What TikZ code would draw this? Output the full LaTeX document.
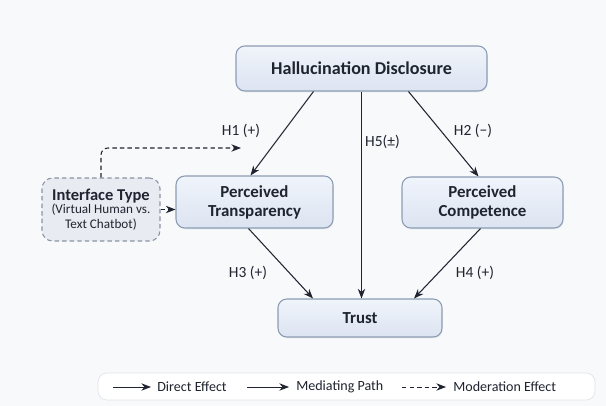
\documentclass[tikz,border=0pt]{standalone}
\usepackage{fontspec}
\setmainfont{Carlito}
\usepackage{xcolor}
\usetikzlibrary{positioning,arrows.meta,calc,shadows}

\definecolor{boxline}{HTML}{8C9CB4}
\definecolor{boxtop}{HTML}{F0F4FB}
\definecolor{boxbot}{HTML}{DCE4F1}
\definecolor{ink}{HTML}{1F2430}
\definecolor{modfill}{HTML}{E8ECF2}
\definecolor{modline}{HTML}{8A93A3}
\definecolor{bgcol}{HTML}{F8F9FB}
\definecolor{legline}{HTML}{E1E4E9}

\begin{document}
\begin{tikzpicture}[x=0.02cm,y=-0.02cm,
  varbox/.style={draw=boxline,line width=0.6pt,rounded corners=5pt,top color=boxtop,bottom color=boxbot,
    text=ink,align=center,inner sep=0pt,
    drop shadow={opacity=0.12,shadow xshift=0.4pt,shadow yshift=-0.8pt}},
  modbox/.style={draw=modline,line width=0.6pt,dash pattern=on 2.5pt off 1.8pt,rounded corners=6pt,
    fill=modfill,text=ink,align=center,inner sep=0pt},
  effect/.style={-{Stealth[length=5.5pt,width=4.2pt]},draw=ink,line width=0.6pt},
  modpath/.style={effect,dash pattern=on 2.5pt off 1.8pt},
  hyp/.style={text=ink,inner sep=0pt,font=\fontsize{8.8}{10}\selectfont},
  legtext/.style={text=ink,inner sep=0pt,anchor=west,font=\fontsize{8}{10}\selectfont}]

\fill[bgcol] (0,0) rectangle (606,406);
\useasboundingbox (0,0) rectangle (606,406);

\node[varbox,minimum width=5.02cm,minimum height=0.9cm,font=\bfseries\fontsize{10.3}{12}\selectfont]
  (hd) at (361.5,68.5) {Hallucination Disclosure};
\node[varbox,minimum width=3.14cm,minimum height=1.04cm,font=\bfseries\fontsize{9.6}{10.8}\selectfont]
  (pt) at (254.5,202) {Perceived\\Transparency};
\node[varbox,minimum width=3.22cm,minimum height=1.02cm,font=\bfseries\fontsize{9.6}{10.8}\selectfont]
  (pc) at (482.5,202.5) {Perceived\\Competence};
\node[varbox,minimum width=3.28cm,minimum height=0.76cm,font=\bfseries\fontsize{9.6}{11}\selectfont]
  (trust) at (360,318) {Trust};
\node[modbox,minimum width=2.36cm,minimum height=1.26cm,font=\fontsize{7.5}{8.8}\selectfont]
  (it) at (101,209.5) {{\bfseries\fontsize{9.4}{10}\selectfont Interface Type}\\[-1.5pt]
  (Virtual Human vs.\\Text Chatbot)};

\coordinate (modtip) at (241,148);

\draw[effect] ($(hd.south)+(-48,0)$) -- ($(pt.north)+(-4,0)$);
\draw[effect] (hd.south) -- (hd.south |- trust.north);
\draw[effect] ($(hd.south)+(47,0)$) -- ($(pc.north)+(-4,0)$);
\draw[effect] ($(pt.south)+(-6,0)$) -- ($(trust.north)+(-47,0)$);
\draw[effect] ($(pc.south)+(-2,0)$) -- ($(trust.north)+(54,0)$);
\draw[modpath] (it.east) -- (it.east -| pt.west);
\draw[modpath,rounded corners=4pt] (it.north) |- (modtip);

\node[hyp] (h1) at (241,131) {H1 (+)};
\node[hyp] (h2) at (473,131) {H2 (−)};
\node[hyp] (h5) at (382.5,142) {H5(±)};
\node[hyp] (h3) at (248,273) {H3 (+)};
\node[hyp] (h4) at (475,273) {H4 (+)};

\node[draw=legline,fill=white,rounded corners=5pt,minimum width=9.94cm,minimum height=0.54cm]
  (legend) at (346.5,386.5) {};
\node[legtext] (lgdirect) at (157,387) {Direct Effect};
\node[legtext] (lgmediate) at (296,387) {Mediating Path};
\node[legtext] (lgmod) at (453,387) {Moderation Effect};
\draw[effect,line width=0.5pt] ($(lgdirect.west)+(-44,0)$) -- ($(lgdirect.west)+(-6,0)$);
\draw[effect,line width=0.5pt] ($(lgmediate.west)+(-49,0)$) -- ($(lgmediate.west)+(-7,0)$);
\draw[modpath,line width=0.5pt] ($(lgmod.west)+(-51,0)$) -- ($(lgmod.west)+(-7,0)$);
\end{tikzpicture}
\end{document}
